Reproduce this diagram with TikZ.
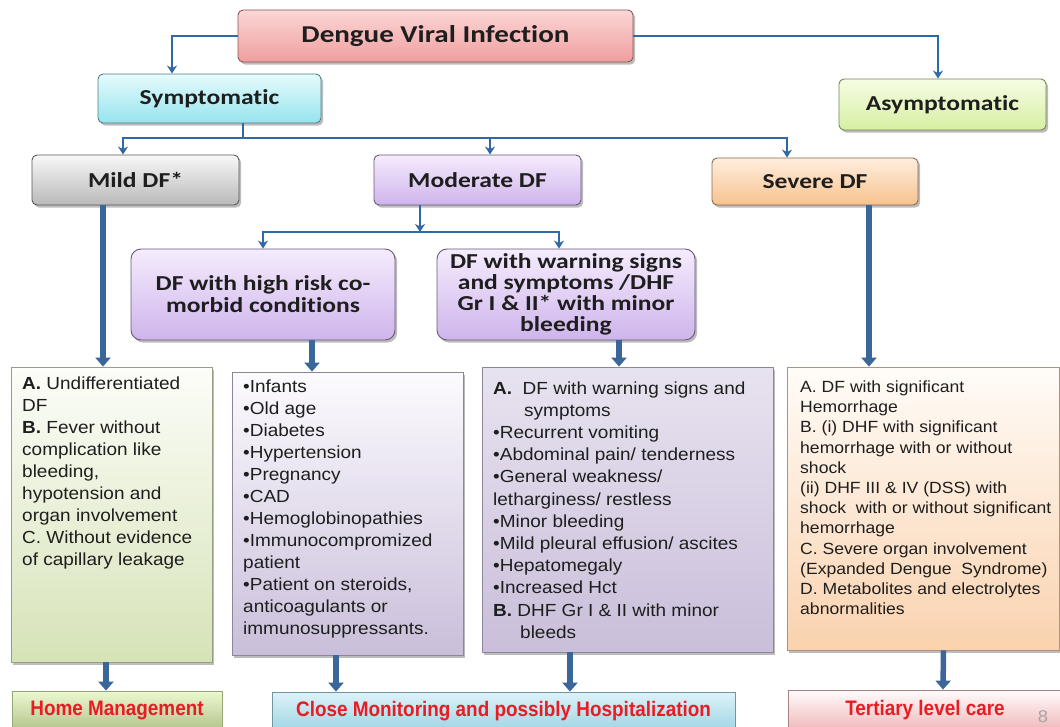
\documentclass[tikz,border=0pt]{standalone}
\usepackage{fontspec}
\setmainfont{Liberation Sans}
\newfontfamily\titlefont[FakeStretch=1.2,Ligatures=NoCommon]{Carlito}
\newfontfamily\bodyfont[FakeStretch=1.085]{Liberation Sans}
\newfontfamily\labelfont[FakeStretch=0.9]{Liberation Sans}
\usetikzlibrary{arrows.meta,shadows}

% palette
\definecolor{linkblue}{RGB}{47,106,166}
\definecolor{flowblue}{RGB}{58,102,153}
\definecolor{textdark}{RGB}{30,30,30}
\definecolor{labelred}{RGB}{232,28,36}
\definecolor{pinktop}{RGB}{252,214,214}
\definecolor{pinkbot}{RGB}{240,158,158}
\definecolor{cyantop}{RGB}{230,251,253}
\definecolor{cyanbot}{RGB}{150,228,238}
\definecolor{limetop}{RGB}{246,253,228}
\definecolor{limebot}{RGB}{214,239,162}
\definecolor{greytop}{RGB}{248,248,248}
\definecolor{greybot}{RGB}{185,185,185}
\definecolor{liltop}{RGB}{245,236,253}
\definecolor{lilbot}{RGB}{206,180,236}
\definecolor{peachtop}{RGB}{254,238,222}
\definecolor{peachbot}{RGB}{248,194,142}
\definecolor{sagetop}{RGB}{252,253,248}
\definecolor{sagebot}{RGB}{214,227,184}
\definecolor{mauvetop}{RGB}{252,251,254}
\definecolor{mauvebot}{RGB}{202,190,218}
\definecolor{apritop}{RGB}{255,252,248}
\definecolor{apribot}{RGB}{250,210,174}
\definecolor{skytop}{RGB}{222,242,248}
\definecolor{skybot}{RGB}{160,214,228}
\definecolor{rosetop}{RGB}{255,252,252}
\definecolor{rosebot}{RGB}{240,184,186}
\definecolor{pagegrey}{RGB}{165,165,165}

\begin{document}
\begin{tikzpicture}[x=1pt,y=-1pt,
  boxbase/.style={rectangle, inner sep=0pt, line width=0.9pt, text=textdark,
    drop shadow={shadow xshift=2.2pt, shadow yshift=-2.6pt, opacity=0.35, fill=black!75}},
  headbox/.style={boxbase, rounded corners=5pt,
    font=\titlefont\bfseries\fontsize{21.3}{22}\selectfont, align=center},
  subbox/.style={headbox, rounded corners=10pt},
  listbox/.style={boxbase, line width=0.8pt},
  endbox/.style={rectangle, inner sep=0pt, line width=0.8pt, text=labelred,
    font=\labelfont\bfseries\fontsize{21}{22}\selectfont},
  pinkfill/.style={top color=pinktop, bottom color=pinkbot, draw=pinkbot!55!black},
  cyanfill/.style={top color=cyantop, bottom color=cyanbot, draw=cyanbot!55!black},
  limefill/.style={top color=limetop, bottom color=limebot, draw=limebot!55!black},
  greyfill/.style={top color=greytop, bottom color=greybot, draw=black!65},
  lilacfill/.style={top color=liltop, bottom color=lilbot, draw=lilbot!50!black},
  peachfill/.style={top color=peachtop, bottom color=peachbot, draw=peachbot!55!black},
  bodytext/.style={inner sep=0pt, text=textdark, anchor=base west,
    font=\bodyfont\fontsize{17.5}{22}\selectfont},
  link/.style={draw=linkblue, line width=2.2pt},
  linkarrow/.style={link, -{Stealth[length=8pt,width=10pt,inset=2.5pt]}},
  flow/.style={draw=flowblue, line width=5.5pt, -{Triangle[length=9pt,width=15pt]}}
]
\useasboundingbox (0,0) rectangle (1060,727);
\clip (0,0) rectangle (1060,727);

% top level
\node[headbox, pinkfill, minimum width=395pt, minimum height=52pt,
  font=\titlefont\bfseries\fontsize{24.2}{26}\selectfont] (dvi) at (435.5,36) {Dengue Viral Infection};
\node[headbox, cyanfill, minimum width=223pt, minimum height=49pt] (sym) at (209.5,98.5) {Symptomatic};
\node[headbox, limefill, minimum width=207pt, minimum height=51pt] (asym) at (942.5,104.5) {Asymptomatic};

% grades
\node[headbox, greyfill, minimum width=207pt, minimum height=50pt] (mild) at (135.5,180) {Mild DF*};
\node[headbox, lilacfill, minimum width=207pt, minimum height=50pt] (mod) at (477.5,180) {Moderate DF};
\node[headbox, peachfill, minimum width=206pt, minimum height=47pt] (sev) at (815,181.5) {Severe DF};

% moderate subgroups
\node[subbox, lilacfill, minimum width=264pt, minimum height=91pt] (risk) at (263,294.5)
  {DF with high risk co-\\morbid conditions};
\node[subbox, lilacfill, minimum width=258pt, minimum height=91pt,
  font=\titlefont\bfseries\fontsize{21.3}{21}\selectfont] (warn) at (566,294.5)
  {DF with warning signs\\and symptoms /DHF\\Gr I \& II* with minor\\bleeding};

% detail panels
\node[listbox, top color=sagetop, bottom color=sagebot, draw=sagebot!70!black,
  minimum width=201pt, minimum height=295pt] (mildlist) at (111.5,514.5) {};
\node[listbox, top color=mauvetop, bottom color=mauvebot, draw=mauvebot!70!black,
  minimum width=231pt, minimum height=283pt] (risklist) at (347.5,513.5) {};
\node[listbox, top color=mauvetop!60!mauvebot, bottom color=mauvebot, draw=mauvebot!70!black,
  minimum width=291pt, minimum height=285pt] (warnlist) at (627.5,509.5) {};
\node[listbox, top color=apritop, bottom color=apribot, draw=apribot!70!black,
  minimum width=272pt, minimum height=283pt] (sevlist) at (923,508.5) {};

\node[bodytext] (mildtext) at (22,389) {\begin{tabular}[t]{@{}l@{}}
\textbf{A.} Undifferentiated\\
DF\\
\textbf{B.} Fever without\\
complication like\\
bleeding,\\
hypotension and\\
organ involvement\\
C. Without evidence\\
of capillary leakage
\end{tabular}};

\node[bodytext] (risktext) at (243,392) {\begin{tabular}[t]{@{}l@{}}
•Infants\\
•Old age\\
•Diabetes\\
•Hypertension\\
•Pregnancy\\
•CAD\\
•Hemoglobinopathies\\
•Immunocompromized\\
patient\\
•Patient on steroids,\\
anticoagulants or\\
immunosuppressants.
\end{tabular}};

\node[bodytext, font=\bodyfont\fontsize{17.5}{22.2}\selectfont] (warntext) at (493,394) {\begin{tabular}[t]{@{}l@{}}
\textbf{A.}\ \ DF with warning signs and\\
\hspace*{31pt}symptoms\\
•Recurrent vomiting\\
•Abdominal pain/ tenderness\\
•General weakness/\\
letharginess/ restless\\
•Minor bleeding\\
•Mild pleural effusion/ ascites\\
•Hepatomegaly\\
•Increased Hct\\
\textbf{B.} DHF Gr I \& II with minor\\
\hspace*{27pt}bleeds
\end{tabular}};

\node[bodytext, font=\bodyfont\fontsize{16.2}{20.2}\selectfont] (sevtext) at (800,392.5) {\begin{tabular}[t]{@{}l@{}}
A. DF with significant\\
Hemorrhage\\
B. (i) DHF with significant\\
hemorrhage with or without\\
shock\\
(ii) DHF III \& IV (DSS) with\\
shock\ \ with or without significant\\
hemorrhage\\
C. Severe organ involvement\\
(Expanded Dengue\ \ Syndrome)\\
D. Metabolites and electrolytes\\
abnormalities
\end{tabular}};

% outcomes
\node[endbox, top color=limetop!70!limebot, bottom color=limebot!80!black!90, draw=limebot!70!black,
  minimum width=210pt, minimum height=38pt] (home) at (117,710) {Home Management};
\node[endbox, top color=skytop, bottom color=skybot, draw=skybot!70!black,
  minimum width=463pt, minimum height=38pt] (close) at (503.5,711) {Close Monitoring and possibly Hospitalization};
\node[endbox, top color=rosetop, bottom color=rosebot, draw=rosebot!70!black,
  minimum width=274pt, minimum height=40pt] (tert) at (925,710) {Tertiary level care};
\node[inner sep=0pt, text=pagegrey, font=\bodyfont\fontsize{17}{18}\selectfont, anchor=base]
  (pagenum) at (1043,722) {8};

% thin connectors
\draw[linkarrow] (dvi.west) -| ([xshift=-37.5pt]sym.north);
\draw[linkarrow] (dvi.east) -| ([xshift=-4.5pt]asym.north);
\coordinate (symbus) at (243,138);
\draw[link] ([xshift=33.5pt]sym.south) -- (symbus);
\draw[linkarrow] (symbus) -| ([xshift=-12.5pt]mild.north);
\draw[linkarrow] (symbus) -| ([xshift=12.5pt]mod.north);
\draw[linkarrow] (symbus) -| ([xshift=-28pt]sev.north);
\coordinate (modbus) at (420,232);
\draw[linkarrow] ([xshift=-57.5pt]mod.south) -- (modbus);
\draw[linkarrow] (modbus) -| (risk.north);
\draw[linkarrow] (modbus) -| ([xshift=-7pt]warn.north);

% heavy connectors
\draw[flow] ([xshift=-32.5pt]mild.south) -- ([xshift=-8.5pt]mildlist.north);
\draw[flow] ([xshift=49pt]risk.south) -- ([xshift=-35.5pt]risklist.north);
\draw[flow] ([xshift=53pt]warn.south) -- ([xshift=-8.5pt]warnlist.north);
\draw[flow] ([xshift=54pt]sev.south) -- ([xshift=-54pt]sevlist.north);
\draw[flow] ([xshift=-5.5pt]mildlist.south) -- ([xshift=-11pt]home.north);
\draw[flow] ([xshift=-11.5pt]risklist.south) -- ([xshift=-167.5pt]close.north);
\draw[flow] ([xshift=-57.5pt]warnlist.south) -- ([xshift=66.5pt]close.north);
\draw[flow] ([xshift=20.5pt]sevlist.south) -- ([xshift=18pt]tert.north);
\end{tikzpicture}
\end{document}
